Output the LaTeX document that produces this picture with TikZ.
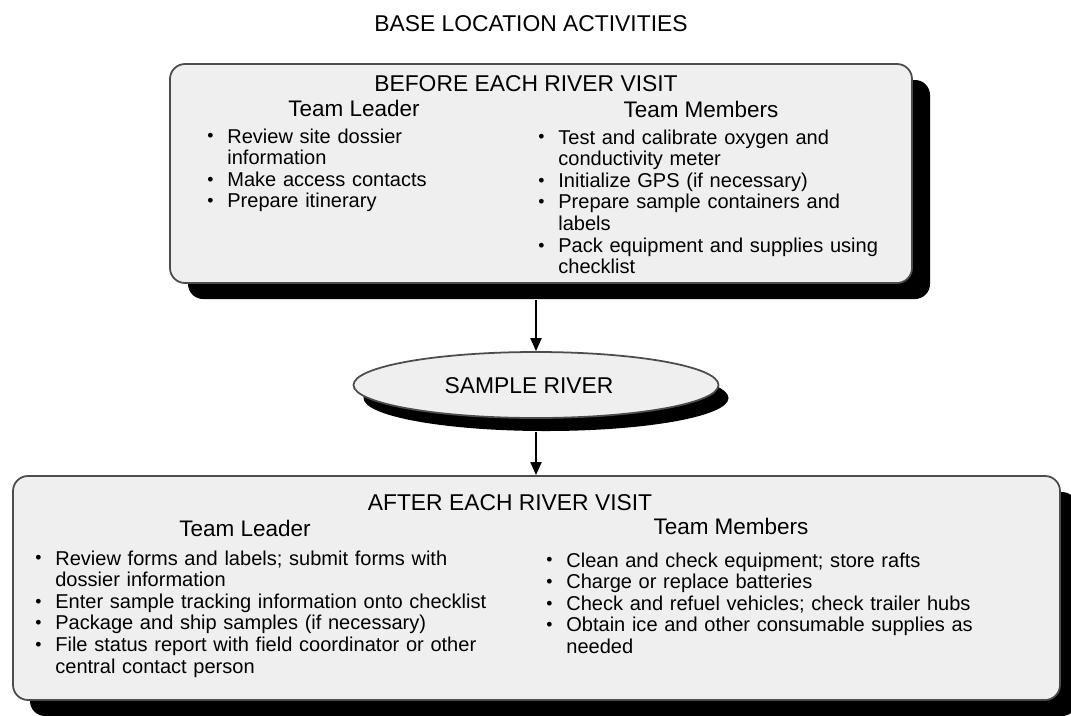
\documentclass[tikz,border=0pt]{standalone}
\usepackage{fontspec}
\setmainfont{Liberation Sans}
\usetikzlibrary{arrows.meta,fit,shapes.geometric,shadows}
\definecolor{panelgray}{HTML}{EFEFEF}
\newcommand{\bul}{\noindent\hangindent=4mm\hangafter=1%
  \makebox[4mm][l]{\raisebox{0.1ex}{\fontsize{10}{10}\selectfont\textbullet}}}
\begin{document}
\begin{tikzpicture}[x=0.2mm,y=-0.2mm,
    panel/.style={draw=black!70,line width=1pt,fill=panelgray,inner sep=0pt},
    blackshadow/.style={drop shadow={shadow xshift=#1,shadow yshift=-3.2mm,fill=black,opacity=1}},
    head/.style={font=\fontsize{13}{15}\selectfont},
    sub/.style={font=\fontsize{12.8}{15}\selectfont},
    list/.style={font=\fontsize{11.4}{12.3}\selectfont,align=left,inner sep=0pt,anchor=base west},
    flow/.style={line width=1.1pt,-{Triangle[width=2.2mm,length=2.6mm]}}]
  \useasboundingbox (0,0) rectangle (1071,715);
  \node[head] (title) at (531,24) {BASE LOCATION ACTIVITIES};
  \node[panel,rounded corners=3mm,blackshadow=3.6mm,fit={(170,64) (912,283)}] (before) {};
  \node[head] (beforehead) at (526,84) {BEFORE EACH RIVER VISIT};
  \node[sub] (beforelead) at (354,108) {Team Leader};
  \node[sub] (beforemem) at (701,109) {Team Members};
  \node[list,text width=60mm] (beforeleadlist) at (207,143) {%
    \bul Review site dossier\newline information\par
    \bul Make access contacts\par
    \bul Prepare itinerary\par};
  \node[list,text width=76mm] (beforememlist) at (538,144) {%
    \bul Test and calibrate oxygen and\newline conductivity meter\par
    \bul Initialize GPS (if necessary)\par
    \bul Prepare sample containers and\newline labels\par
    \bul Pack equipment and supplies using\newline checklist\par};
  \node[panel,ellipse,minimum width=73mm,minimum height=13.2mm,
    drop shadow={shadow xshift=2mm,shadow yshift=-2.6mm,fill=black,opacity=1}] (river) at (536,385) {};
  \node[head] (rivertext) at (529,386) {SAMPLE RIVER};
  \node[panel,rounded corners=3mm,blackshadow=3.4mm,fit={(13,476) (1060,700)}] (after) {};
  \node[head] (afterhead) at (510,503) {AFTER EACH RIVER VISIT};
  \node[sub] (afterlead) at (245,528) {Team Leader};
  \node[sub] (aftermem) at (731,526) {Team Members};
  \node[list,text width=100mm] (afterleadlist) at (35,565) {%
    \bul Review forms and labels; submit forms with\newline dossier information\par
    \bul Enter sample tracking information onto checklist\par
    \bul Package and ship samples (if necessary)\par
    \bul File status report with field coordinator or other\newline central contact person\par};
  \node[list,text width=98mm] (aftermemlist) at (546,567) {%
    \bul Clean and check equipment; store rafts\par
    \bul Charge or replace batteries\par
    \bul Check and refuel vehicles; check trailer hubs\par
    \bul Obtain ice and other consumable supplies as\newline needed\par};
  \coordinate (beforeshadow) at ([yshift=-3.2mm]before.south);
  \coordinate (rivershadow) at ([yshift=-2.6mm]river.south);
  \draw[flow] (beforeshadow -| river.north) -- (river.north);
  \draw[flow] (rivershadow) -- (after.north -| rivershadow);
\end{tikzpicture}
\end{document}
